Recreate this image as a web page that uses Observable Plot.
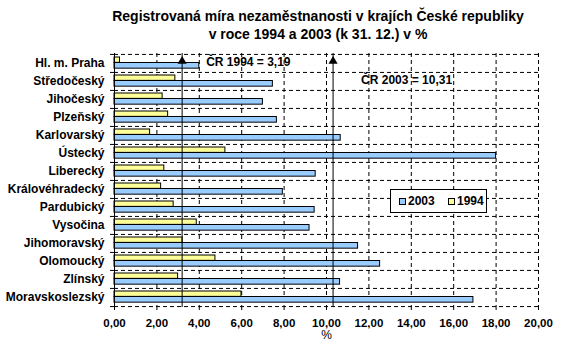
<!DOCTYPE html>
<html>
<head>
<meta charset="utf-8">
<script src="https://cdn.jsdelivr.net/npm/d3@7"></script>
<script src="https://cdn.jsdelivr.net/npm/@observablehq/plot@0.6"></script>
<style>
  html, body { margin: 0; padding: 0; background: #fff; }
  #wrap { position: relative; width: 580px; height: 356px; font-family: Arial, "Liberation Sans", sans-serif; }
  #title { position: absolute; left: 56px; top: 7px; width: 524px; text-align: center; font-weight: bold; font-size: 14px; line-height: 18px; color: #000; }
  #legend { position: absolute; left: 390px; top: 189px; width: 95px; height: 22px; border: 1px solid #000; background: #fff; font-weight: bold; font-size: 12px; box-sizing: content-box; }
  #legend span.sw { position: absolute; top: 8px; width: 5px; height: 5px; border: 1px solid #000; }
  #legend span.lb { position: absolute; top: 4px; line-height: 14px; }
  svg { position: absolute; left: 0; top: 0; }
</style>
</head>
<body>
<div id="wrap">
  <div id="title">Registrovaná míra nezaměstnanosti v krajích České republiky<br>v roce 1994 a 2003 (k 31. 12.) v %</div>
</div>
<script>
const regions = ["Hl. m. Praha","Středočeský","Jihočeský","Plzeňský","Karlovarský","Ústecký","Liberecký","Královéhradecký","Pardubický","Vysočina","Jihomoravský","Olomoucký","Zlínský","Moravskoslezský"];
const v1994 = [0.26, 2.87, 2.27, 2.53, 1.68, 5.23, 2.35, 2.20, 2.79, 3.88, 3.21, 4.76, 3.00, 5.99];
const v2003 = [4.00, 7.47, 7.00, 7.66, 10.67, 18.00, 9.49, 7.94, 9.44, 9.20, 11.49, 12.53, 10.64, 16.93];
const xTicks = [0, 2, 4, 6, 8, 10, 12, 14, 16, 18, 20];
const cr1994 = 3.19;
const cr2003 = 10.31;
const series = ["2003", "1994"];
const colors = {"2003": "#99CCFF", "1994": "#FFFF99"};

const W = 580, H = 356, mt = 53, mb = 49, ml = 114, mr = 42;
const bw = (H - mt - mb) / regions.length;

const d1994 = regions.map((r, i) => ({region: r, value: v1994[i]}));
const d2003 = regions.map((r, i) => ({region: r, value: v2003[i]}));
const fmt = d => d3.format(".2f")(d).replace(".", ",");
const dash = "4,3";

const chart = Plot.plot({
  width: W, height: H,
  marginTop: mt, marginBottom: mb, marginLeft: ml, marginRight: mr,
  style: {fontFamily: "Arial, 'Liberation Sans', sans-serif", fontSize: "11px", fontWeight: "bold", background: "transparent", color: "#000"},
  x: {domain: [0, 20]},
  y: {domain: regions, padding: 0},
  marks: [
    // horizontal dashed grid at band boundaries
    Plot.ruleY(regions, {y: d => d, x1: 0, x2: 20, dy: -bw / 2, stroke: "#000", strokeDasharray: dash}),
    Plot.ruleY([regions[regions.length - 1]], {y: d => d, x1: 0, x2: 20, dy: bw / 2, stroke: "#000", strokeDasharray: dash}),
    // vertical dashed grid
    Plot.ruleX(xTicks.filter(d => d > 0), {x: d => d, stroke: "#000", strokeDasharray: dash}),
    // bars
    Plot.barX(d1994, {y: "region", x: "value", fill: colors["1994"], stroke: "#000", strokeWidth: 1, insetTop: 3, insetBottom: bw - 8.5}),
    Plot.barX(d2003, {y: "region", x: "value", fill: colors["2003"], stroke: "#000", strokeWidth: 1, insetTop: 8.5, insetBottom: bw - 14.3}),
    // reference lines with arrowheads
    Plot.ruleX([cr1994, cr2003], {x: d => d, stroke: "#000", strokeWidth: 1}),
    Plot.dot([cr1994, cr2003], {x: d => d, y: () => regions[0], dy: -2.3, symbol: "triangle", r: 3.4, fill: "#000", stroke: "none"}),
    Plot.text([cr1994], {x: d => d, y: () => regions[0], dx: 24, dy: -1, text: d => "ČR 1994 = " + fmt(d), textAnchor: "start", fill: "#000", fontSize: 12}),
    Plot.text([cr2003], {x: d => d, y: () => regions[1], dx: 28, dy: -1.5, text: d => "ČR 2003 = " + fmt(d), textAnchor: "start", fill: "#000", fontSize: 12}),
    // left solid axis line with ticks
    Plot.ruleX([0], {stroke: "#000", strokeWidth: 1}),
    Plot.ruleY(regions, {y: d => d, x1: -0.19, x2: 0, dy: -bw / 2, stroke: "#000"}),
    Plot.ruleY([regions[regions.length - 1]], {y: d => d, x1: -0.19, x2: 0, dy: bw / 2, stroke: "#000"}),
    Plot.axisY({tickSize: 0, tickPadding: 10, label: null, fontWeight: "bold", fontSize: 12}),
    Plot.axisX({ticks: xTicks, tickFormat: fmt, tickSize: 3, tickPadding: 8, label: null, fontSize: 11.5}),
    Plot.text(["%"], {frameAnchor: "bottom", dy: 31, text: d => d, fontWeight: "normal", fill: "#000", fontSize: 12})
  ]
});
document.getElementById("wrap").appendChild(chart);

// legend
const lg = document.createElement("div");
lg.id = "legend";
const items = [{k: "2003", swx: 8, lx: 17}, {k: "1994", swx: 57, lx: 66}];
for (const it of items) {
  const sw = document.createElement("span");
  sw.className = "sw"; sw.style.left = it.swx + "px"; sw.style.background = colors[it.k];
  const lb = document.createElement("span");
  lb.className = "lb"; lb.style.left = it.lx + "px"; lb.textContent = it.k;
  lg.appendChild(sw); lg.appendChild(lb);
}
document.getElementById("wrap").appendChild(lg);
</script>
</body>
</html>
